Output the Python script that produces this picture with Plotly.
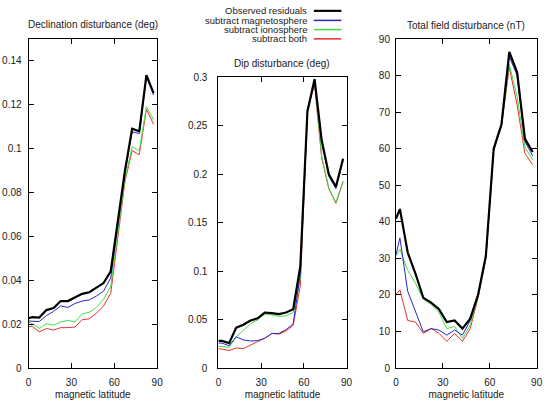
import plotly.graph_objects as go

# ---------------- data ----------------
lat = [0, 2.5, 7.5, 12.5, 17.5, 22.5, 27.5, 32.5, 37.5, 42.5, 47.5,
       52.5, 57.5, 62.5, 67.5, 72.5, 77.5, 82.5, 87.5]

series_names = ["Observed residuals", "subtract magnetosphere",
                "subtract ionosphere", "subtract both"]

dec_obs = [0.0227, 0.0232, 0.0230, 0.0264, 0.0273, 0.0305, 0.0305, 0.0320, 0.0338, 0.0345,
           0.0365, 0.0387, 0.0440, 0.066, 0.090, 0.1090, 0.1078, 0.1334, 0.1252]
dec_mag = [0.0214, 0.0214, 0.0212, 0.0239, 0.0258, 0.0283, 0.0276, 0.0294, 0.0305, 0.0310,
           0.0328, 0.0350, 0.0410, 0.065, 0.089, 0.1075, 0.1068, 0.1326, 0.1243]
dec_ion = [0.0210, 0.0202, 0.0180, 0.0202, 0.0195, 0.0210, 0.0217, 0.0210, 0.0246, 0.0254,
           0.0276, 0.0313, 0.0370, 0.062, 0.086, 0.1008, 0.0990, 0.1190, 0.1130]
dec_both = [0.0190, 0.0190, 0.0165, 0.0180, 0.0173, 0.0184, 0.0184, 0.0187, 0.0220, 0.0224,
            0.0250, 0.0283, 0.0340, 0.060, 0.085, 0.0990, 0.0971, 0.1178, 0.1110]

dip_obs = [0.0280, 0.0280, 0.0257, 0.0417, 0.0447, 0.0490, 0.0513, 0.0573, 0.0567, 0.0557,
           0.0573, 0.0607, 0.105, 0.265, 0.298, 0.235, 0.200, 0.187, 0.216]
dip_mag = [0.0257, 0.0257, 0.0230, 0.0323, 0.0290, 0.0280, 0.0283, 0.0307, 0.0357, 0.0357,
           0.0397, 0.0457, 0.097, 0.264, 0.297, 0.233, 0.198, 0.185, 0.214]
dip_ion = [0.0223, 0.0223, 0.0213, 0.0323, 0.0390, 0.0457, 0.0497, 0.0557, 0.0550, 0.0533,
           0.0540, 0.0573, 0.092, 0.266, 0.296, 0.219, 0.186, 0.171, 0.193]
dip_both = [0.0197, 0.0197, 0.0180, 0.0207, 0.0200, 0.0240, 0.0273, 0.0307, 0.0357, 0.0350,
            0.0383, 0.0440, 0.085, 0.265, 0.293, 0.217, 0.185, 0.170, 0.192]

tot_obs = [40.9, 43.5, 31.6, 25.8, 19.2, 17.9, 16.1, 12.6, 13.0, 10.8,
           13.5, 20.0, 30.7, 60.0, 66.7, 86.5, 80.9, 62.7, 59.1]
tot_mag = [31.0, 35.6, 21.0, 15.7, 9.9, 10.8, 10.4, 9.0, 10.4, 9.0,
           13.0, 20.0, 30.3, 59.8, 66.5, 85.3, 80.0, 62.0, 58.0]
tot_ion = [30.7, 32.5, 26.7, 23.2, 18.8, 17.4, 15.2, 10.8, 11.4, 8.1,
           11.7, 19.6, 30.3, 59.5, 66.3, 83.1, 74.2, 60.5, 56.9]
tot_both = [20.1, 21.4, 13.0, 12.6, 9.5, 10.8, 9.5, 7.3, 9.5, 7.3,
            10.8, 19.2, 29.8, 59.3, 66.2, 82.2, 72.0, 58.7, 55.6]

x_ticks = [0, 30, 60, 90]
dec_ticks = [0, 0.02, 0.04, 0.06, 0.08, 0.1, 0.12, 0.14]
dec_ticklabels = ["0", "0.02", "0.04", "0.06", "0.08", "0.1", "0.12", "0.14"]
dip_ticks = [0, 0.05, 0.1, 0.15, 0.2, 0.25, 0.3]
dip_ticklabels = ["0", "0.05", "0.1", "0.15", "0.2", "0.25", "0.3"]
tot_ticks = [0, 10, 20, 30, 40, 50, 60, 70, 80, 90]
tot_ticklabels = ["0", "10", "20", "30", "40", "50", "60", "70", "80", "90"]

panel_titles = ["Declination disturbance (deg)", "Dip disturbance (deg)",
                "Total field disturbance (nT)"]
x_title = "magnetic latitude"

# ---------------- style ----------------
W, H = 552, 400
colors = ["#000000", "#2828c8", "#44dd44", "#e83030"]
widths = [2.2, 1.0, 1.0, 1.0]
FONT = "Liberation Sans, Arial, sans-serif"
TXT = "#1a1a1a"


def px(x):
    return x / W


def py(y):
    return 1 - y / H


fig = go.Figure()

panels = [
    ("x", "y", [dec_obs, dec_mag, dec_ion, dec_both]),
    ("x2", "y2", [dip_obs, dip_mag, dip_ion, dip_both]),
    ("x3", "y3", [tot_obs, tot_mag, tot_ion, tot_both]),
]
for xa, ya, data in panels:
    # thin lines first, black on top
    for i in [3, 2, 1, 0]:
        fig.add_trace(go.Scatter(
            x=lat, y=data[i], mode="lines", name=series_names[i],
            line=dict(color=colors[i], width=widths[i]),
            xaxis=xa, yaxis=ya, showlegend=False, hoverinfo="skip"))

bottom = 372.3
domains = [
    ((26, 156.7), (33.5, bottom)),
    ((219, 349.3), (73.3, bottom)),
    ((399.5, 542.5), (34, bottom)),
]
yranges = [[0, 0.15], [0, 0.3], [0, 90]]
yticks = [(dec_ticks, dec_ticklabels), (dip_ticks, dip_ticklabels),
          (tot_ticks, tot_ticklabels)]
ystandoff = [4, 8, 3]

axis_common = dict(showline=True, linecolor="black", linewidth=1, mirror="ticks",
                   ticks="inside", ticklen=5, tickcolor="black", tickwidth=1,
                   showgrid=False, zeroline=False,
                   tickfont=dict(family=FONT, size=10, color=TXT))

layout = dict(width=W, height=H, margin=dict(l=0, r=0, t=0, b=0),
              paper_bgcolor="white", plot_bgcolor="white", showlegend=False)

for k in range(3):
    (x0, x1), (ytop, ybot) = domains[k]
    sx = "" if k == 0 else str(k + 1)
    layout["xaxis" + sx] = dict(
        domain=[px(x0), px(x1)], range=[0, 90], tickvals=x_ticks,
        anchor="y" + sx, ticklabelstandoff=5,
        title=dict(text=x_title, standoff=3,
                   font=dict(family=FONT, size=10, color=TXT)),
        **axis_common)
    layout["yaxis" + sx] = dict(
        domain=[py(ybot), py(ytop)], range=yranges[k],
        tickvals=yticks[k][0], ticktext=yticks[k][1],
        anchor="x" + sx, ticklabelstandoff=ystandoff[k], **axis_common)

fig.update_layout(**layout)

# panel titles
title_pos = [(91.5, 19.5), (284, 59), (471, 20)]
for t, (x, y) in zip(panel_titles, title_pos):
    fig.add_annotation(text=t, x=px(x), y=py(y), xref="paper", yref="paper",
                       showarrow=False, xanchor="center", yanchor="middle",
                       font=dict(family=FONT, size=10, color=TXT))

# gnuplot-style key: text right-aligned, line sample to the right
key_y = [5, 14.8, 24.3, 33.8]
for i, name in enumerate(series_names):
    fig.add_annotation(text=name, x=px(310), y=py(key_y[i]), xref="paper", yref="paper",
                       showarrow=False, xanchor="right", yanchor="middle", borderpad=0,
                       font=dict(family=FONT, size=9.5, color=TXT))
    fig.add_shape(type="line", xref="paper", yref="paper",
                  x0=px(316), x1=px(344), y0=py(key_y[i]), y1=py(key_y[i]),
                  line=dict(color=colors[i], width=widths[i] if i == 0 else 1.5))

fig.write_html("out.html")
